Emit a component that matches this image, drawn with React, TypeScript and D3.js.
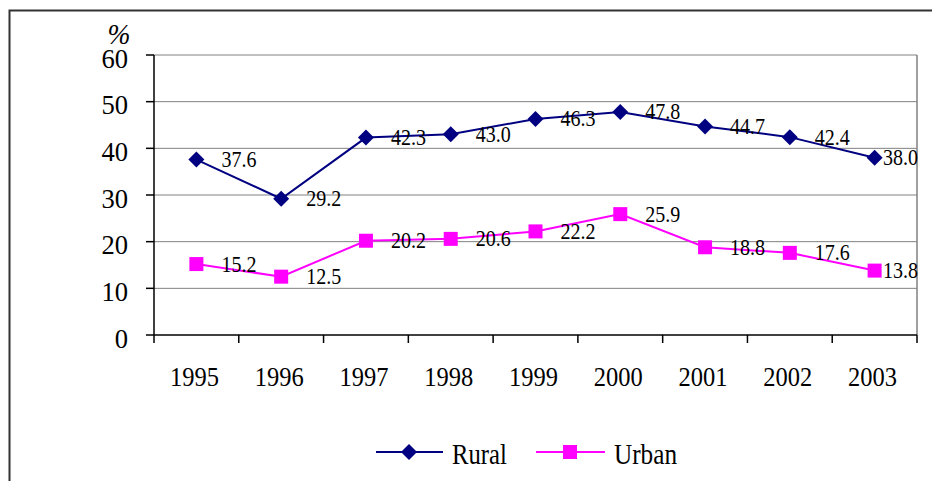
import React from "react";
import * as d3 from "d3";

const years = ["1995", "1996", "1997", "1998", "1999", "2000", "2001", "2002", "2003"];
const rural = [37.6, 29.2, 42.3, 43.0, 46.3, 47.8, 44.7, 42.4, 38.0];
const urban = [15.2, 12.5, 20.2, 20.6, 22.2, 25.9, 18.8, 17.6, 13.8];
const yTicks = [0, 10, 20, 30, 40, 50, 60];

const W = 932, H = 481;
const L = 154, R = 917, T = 55, B = 335;
const FONT = "Liberation Serif";

function Txt(props: { x: number; y: number; size: number; sx: number; anchor?: string; italic?: boolean; children: React.ReactNode }) {
  const { x, y, size, sx, anchor, italic, children } = props;
  return (
    <text
      transform={`translate(${x},${y}) scale(${sx},1)`}
      textAnchor={anchor || "start"}
      style={{ fontFamily: FONT, fontSize: size, fontStyle: italic ? "italic" : "normal" }}
      fill="#000"
    >
      {children}
    </text>
  );
}

export default function App() {
  const x = d3.scaleBand<string>().domain(years).range([L, R]);
  const y = d3.scaleLinear().domain([0, 60]).range([B, T]);
  const cx = (d: string) => (x(d) as number) + x.bandwidth() / 2;
  const line = d3.line<number>().x((_, i) => cx(years[i])).y((v) => y(v));
  const diamond = (px: number, py: number, s = 8) =>
    `M${px},${py - s}L${px + s},${py}L${px},${py + s}L${px - s},${py}Z`;
  const bounds = [...years.map((d) => x(d) as number), R];
  const labelX = (i: number) => (i === years.length - 1 ? R + 1 : cx(years[i]) + 25);
  const labelA = (i: number) => (i === years.length - 1 ? "end" : "start");

  return (
    <svg width={W} height={H} style={{ position: "absolute", left: 0, top: 0 }}>
      <rect x={0} y={0} width={W} height={H} fill="#fff" />
      <path d={`M9.5,${H}V10.5H${W}`} fill="none" stroke="#333" strokeWidth={2} />
      {yTicks.filter((t) => t > 0).map((t) => (
        <line key={t} x1={L} x2={R} y1={y(t)} y2={y(t)} stroke="#808080" strokeWidth={1} />
      ))}
      <line x1={R} x2={R} y1={T} y2={B} stroke="#808080" strokeWidth={1.5} />
      <line x1={L} x2={L} y1={T} y2={B} stroke="#000" strokeWidth={1.5} />
      <line x1={L} x2={R} y1={B} y2={B} stroke="#000" strokeWidth={1.5} />
      {yTicks.map((t) => (
        <g key={t}>
          <line x1={146} x2={L} y1={y(t)} y2={y(t)} stroke="#000" strokeWidth={1.5} />
          <Txt x={128} y={y(t) + 12.5} size={28} sx={0.95} anchor="end">{t}</Txt>
        </g>
      ))}
      <Txt x={119} y={44} size={29} sx={0.95} anchor="middle" italic>%</Txt>
      {bounds.map((b, i) => (
        <line key={i} x1={b} x2={b} y1={B} y2={B + 8} stroke="#000" strokeWidth={1.5} />
      ))}
      {years.map((d) => (
        <Txt key={d} x={cx(d) - 2} y={386} size={28} sx={0.875} anchor="middle">{d}</Txt>
      ))}
      <path d={line(rural) || ""} fill="none" stroke="#000080" strokeWidth={2} />
      <path d={line(urban) || ""} fill="none" stroke="#FF00FF" strokeWidth={2} />
      {rural.map((v, i) => (
        <g key={"r" + i}>
          <path d={diamond(cx(years[i]), y(v))} fill="#000080" />
          <Txt x={labelX(i)} y={y(v) + 7.5} size={23} sx={0.87} anchor={labelA(i)}>{v.toFixed(1)}</Txt>
        </g>
      ))}
      {urban.map((v, i) => (
        <g key={"u" + i}>
          <rect x={cx(years[i]) - 7} y={y(v) - 7} width={14} height={14} fill="#FF00FF" />
          <Txt x={labelX(i)} y={y(v) + 7.5} size={23} sx={0.87} anchor={labelA(i)}>{v.toFixed(1)}</Txt>
        </g>
      ))}
      <line x1={376} x2={443} y1={452} y2={452} stroke="#000080" strokeWidth={2} />
      <path d={diamond(409, 452)} fill="#000080" />
      <Txt x={452} y={464} size={29} sx={0.85}>Rural</Txt>
      <line x1={536} x2={605} y1={452} y2={452} stroke="#FF00FF" strokeWidth={2} />
      <rect x={563} y={445} width={14} height={14} fill="#FF00FF" />
      <Txt x={614} y={464} size={29} sx={0.87}>Urban</Txt>
    </svg>
  );
}
